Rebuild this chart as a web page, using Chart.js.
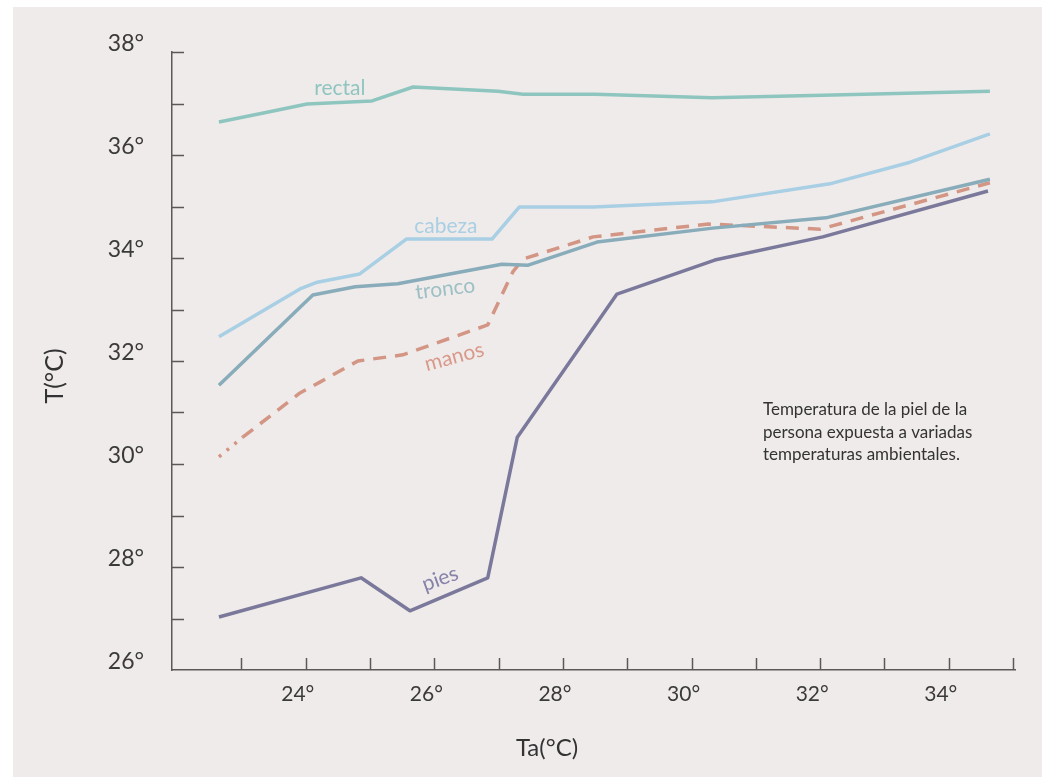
<!DOCTYPE html>
<html>
<head>
<meta charset="utf-8">
<script src="https://cdn.jsdelivr.net/npm/chart.js@4/dist/chart.umd.min.js"></script>
<style>
html,body{margin:0;padding:0;background:#ffffff;}
canvas{display:block;}
</style>
</head>
<body>
<canvas id="c" width="1042" height="777"></canvas>
<script>
// ---- Data (Ta in °C on x, T in °C on y) ----
const rectalX = [22.65, 23.40, 24.02, 25.03, 25.67, 26.99, 27.38, 28.50, 30.32, 32.04, 34.64];
const rectalY = [36.64, 36.83, 36.99, 37.05, 37.32, 37.24, 37.18, 37.18, 37.11, 37.16, 37.24];

const cabezaX = [22.65, 23.91, 24.18, 24.84, 25.57, 26.90, 27.32, 28.47, 30.32, 32.15, 33.40, 34.64];
const cabezaY = [32.47, 33.40, 33.53, 33.69, 34.37, 34.37, 34.99, 34.99, 35.09, 35.44, 35.86, 36.41];

const troncoX = [22.65, 24.11, 24.77, 25.43, 27.05, 27.46, 28.53, 30.33, 32.09, 34.64];
const troncoY = [31.53, 33.28, 33.44, 33.50, 33.88, 33.86, 34.31, 34.58, 34.78, 35.53];

const manosX = [22.65, 23.02, 23.91, 24.22, 24.81, 25.51, 26.83, 26.94, 27.22, 27.38, 28.47, 30.26, 32.00, 34.64];
const manosY = [30.14, 30.52, 31.38, 31.59, 32.00, 32.12, 32.70, 32.99, 33.73, 33.98, 34.41, 34.66, 34.56, 35.46];

const piesX = [22.65, 24.86, 25.62, 26.83, 27.29, 28.84, 30.36, 32.04, 34.61];
const piesY = [27.03, 27.79, 27.15, 27.79, 30.52, 33.30, 33.96, 34.41, 35.30];

const seriesNames = ["rectal", "cabeza", "tronco", "manos", "pies"];
// label anchor positions in data units and their rotation (deg)
const labelX = [24.53, 26.18, 26.17, 26.31, 26.09];
const labelY = [37.30, 34.62, 33.40, 32.08, 27.77];
const labelRot = [0, 0, -7, -15, -20];

const yTicks = [26, 28, 30, 32, 34, 36, 38];
const xTicks = [24, 26, 28, 30, 32, 34];
const xTitle = "Ta(°C)";
const yTitle = "T(°C)";
const noteLines = ["Temperatura de la piel de la", "persona expuesta a variadas", "temperaturas ambientales."];

// ---- Styles ----
const FONT = "Lato, 'Open Sans', sans-serif";
const lineColors = ["#8ec6bf", "#a8cfe3", "#88acb9", "#d39584", "#7b799b"];
const labelColors = ["#8ec6bf", "#a8cfe3", "#9dc0c4", "#d8998a", "#8682a8"];

const pts = (xs, ys) => xs.map((x, i) => ({x: x, y: ys[i]}));

const decor = {
  id: 'decor',
  beforeDraw(chart) {
    const ctx = chart.ctx;
    ctx.save();
    ctx.fillStyle = '#ffffff';
    ctx.fillRect(0, 0, chart.width, chart.height);
    ctx.fillStyle = '#f0ebeb';
    ctx.fillRect(13, 7, chart.width - 13, chart.height - 7);
    ctx.restore();
  },
  beforeDatasetsDraw(chart) {
    const ctx = chart.ctx;
    const xs = chart.scales.x, ys = chart.scales.y;
    ctx.save();
    ctx.strokeStyle = '#5a5858';
    ctx.lineWidth = 1.5;
    ctx.beginPath();
    // inward y ticks
    ys.ticks.forEach(t => {
      const v = t.value;
      if (!Number.isInteger(v) || v <= ys.min) return;
      const p = Math.round(ys.getPixelForValue(v)) + 0.5;
      ctx.moveTo(xs.left, p); ctx.lineTo(xs.left + 12, p);
    });
    // inward x ticks
    xs.ticks.forEach(t => {
      const v = t.value;
      if (!Number.isInteger(v) || v < xs.min + 0.5) return;
      const p = Math.round(xs.getPixelForValue(v)) + 0.5;
      ctx.moveTo(p, ys.bottom); ctx.lineTo(p, ys.bottom - 12);
    });
    ctx.stroke();
    ctx.restore();
  },
  afterDraw(chart) {
    const ctx = chart.ctx;
    const xs = chart.scales.x, ys = chart.scales.y;
    ctx.save();
    // series labels
    ctx.font = "21px " + FONT;
    ctx.textAlign = 'center';
    ctx.textBaseline = 'middle';
    seriesNames.forEach((n, i) => {
      ctx.save();
      ctx.translate(xs.getPixelForValue(labelX[i]), ys.getPixelForValue(labelY[i]));
      ctx.rotate(labelRot[i] * Math.PI / 180);
      ctx.fillStyle = labelColors[i];
      ctx.fillText(n, 0, 0);
      ctx.restore();
    });
    // note
    ctx.fillStyle = '#333333';
    ctx.font = "17px " + FONT;
    ctx.textAlign = 'left';
    const nx = xs.getPixelForValue(31.11);
    const ny = ys.getPixelForValue(31.05);
    noteLines.forEach((l, i) => ctx.fillText(l, nx, ny + i * 22.5));
    // axis titles
    ctx.fillStyle = '#333333';
    ctx.font = "24px " + FONT;
    ctx.textAlign = 'center';
    ctx.fillText(xTitle, xs.left + 375, 748);
    ctx.save();
    ctx.translate(55, ys.top + 324);
    ctx.rotate(-Math.PI / 2);
    ctx.font = "25px " + FONT;
    ctx.fillText(yTitle, 0, 0);
    ctx.restore();
    ctx.restore();
  }
};

const makeSet = (i, xs, ys, extra) => Object.assign({
  label: seriesNames[i],
  data: pts(xs, ys),
  borderColor: lineColors[i],
  backgroundColor: lineColors[i],
  borderWidth: 3.5,
  pointRadius: 0,
  tension: 0,
  fill: false,
  borderJoinStyle: 'round'
}, extra || {});

new Chart(document.getElementById('c'), {
  type: 'line',
  data: {
    datasets: [
      makeSet(0, rectalX, rectalY),
      makeSet(1, cabezaX, cabezaY),
      makeSet(2, troncoX, troncoY),
      makeSet(3, manosX, manosY, {
        borderDash: [13, 9],
        segment: {borderDash: c => c.p0DataIndex === 0 ? [3, 7] : [13, 9]}
      }),
      makeSet(4, piesX, piesY)
    ]
  },
  options: {
    responsive: false,
    devicePixelRatio: 1,
    animation: false,
    layout: {padding: {top: 52, right: 27, left: 0, bottom: 0}},
    plugins: {legend: {display: false}, tooltip: {enabled: false}},
    scales: {
      x: {
        type: 'linear',
        min: 21.92, max: 35.03,
        afterFit(s) { s.height = 107; },
        grid: {display: false, drawTicks: false},
        border: {display: true, color: '#5a5858', width: 1.5},
        ticks: {
          stepSize: 1, autoSkip: false, maxRotation: 0, includeBounds: false,
          padding: 12, labelOffset: -8,
          color: '#3a3a3a', font: {family: FONT, size: 21},
          callback: v => xTicks.includes(v) ? v + '°' : ''
        }
      },
      y: {
        type: 'linear',
        min: 26, max: 38,
        afterFit(s) { s.width = 172; },
        grid: {display: false, drawTicks: false},
        border: {display: true, color: '#5a5858', width: 1.5},
        ticks: {
          stepSize: 1, autoSkip: false,
          padding: 28, labelOffset: -8,
          color: '#3a3a3a', font: {family: FONT, size: 23},
          callback: v => yTicks.includes(v) ? v + '°' : ''
        }
      }
    }
  },
  plugins: [decor]
});
</script>
</body>
</html>
